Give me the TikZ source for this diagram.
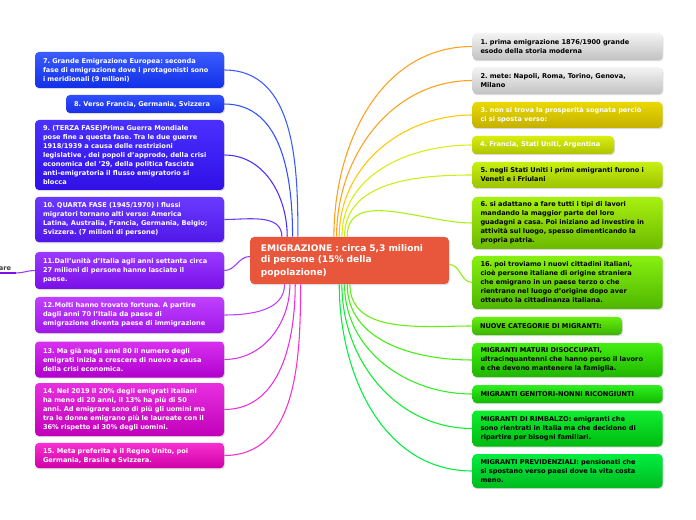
\documentclass[tikz,border=0pt]{standalone}
\usepackage{fontspec}
\setmainfont{DejaVu Sans}
\usetikzlibrary{shadows}
\definecolor{c7a}{HTML}{3A5CFF}\definecolor{c7b}{HTML}{1230E8}
\definecolor{c8a}{HTML}{2E50FF}\definecolor{c8b}{HTML}{1A2EE8}
\definecolor{c9a}{HTML}{4A30FF}\definecolor{c9b}{HTML}{3010E6}
\definecolor{c10a}{HTML}{6A3AFF}\definecolor{c10b}{HTML}{5018E8}
\definecolor{c11a}{HTML}{9A3AFF}\definecolor{c11b}{HTML}{7A10E8}
\definecolor{c12a}{HTML}{C040FF}\definecolor{c12b}{HTML}{A018E8}
\definecolor{c13a}{HTML}{D830F0}\definecolor{c13b}{HTML}{B000CC}
\definecolor{c14a}{HTML}{E830E0}\definecolor{c14b}{HTML}{C000B8}
\definecolor{c15a}{HTML}{F830D0}\definecolor{c15b}{HTML}{D000A8}
\definecolor{g1a}{HTML}{F4F4F4}\definecolor{g1b}{HTML}{C2C2C2}
\definecolor{y3a}{HTML}{EAD800}\definecolor{y3b}{HTML}{C4B000}
\definecolor{y4a}{HTML}{D8EE10}\definecolor{y4b}{HTML}{B0C400}
\definecolor{y5a}{HTML}{C8F010}\definecolor{y5b}{HTML}{9CC200}
\definecolor{y6a}{HTML}{A8F010}\definecolor{y6b}{HTML}{6CBA00}
\definecolor{y16a}{HTML}{88F010}\definecolor{y16b}{HTML}{4EB600}
\definecolor{ynua}{HTML}{66EE10}\definecolor{ynub}{HTML}{3AB400}
\definecolor{ymaa}{HTML}{44EE10}\definecolor{ymab}{HTML}{20B600}
\definecolor{ygea}{HTML}{30EE20}\definecolor{ygeb}{HTML}{10BA00}
\definecolor{yria}{HTML}{10EE30}\definecolor{yrib}{HTML}{00BA10}
\definecolor{ypra}{HTML}{00EE40}\definecolor{yprb}{HTML}{00BA20}
\definecolor{ctr}{HTML}{E8573C}
\definecolor{lo1}{HTML}{FFA020}\definecolor{lo3}{HTML}{FFC800}
\frenchspacing
\begin{document}
\begin{tikzpicture}[x=0.75pt,y=-0.75pt,
  box/.style={rounded corners=3pt, align=left, inner xsep=6pt, inner ysep=1pt,
    font=\fontsize{4.95}{6.75}\selectfont\bfseries\frenchspacing,
    drop shadow={opacity=0.28,shadow xshift=0.6pt,shadow yshift=-0.9pt}},
  lbox/.style={box, text=white, text width=129.75pt},
  rbox/.style={box, text width=130.5pt},
  grad/.style 2 args={top color=#1, bottom color=#2},
  conn/.style={line width=0.8pt}]
\useasboundingbox (0,0) rectangle (696,520);
\fill[white] (0,0) rectangle (696,520);

% centre
\node[rounded corners=3pt, fill=ctr, text=white, align=left, text width=133pt,
  minimum height=35.25pt, inner xsep=8pt, font=\fontsize{6.8}{9}\selectfont\bfseries,
  drop shadow={opacity=0.28,shadow xshift=0.6pt,shadow yshift=-0.9pt}]
  (c) at (349.5,260.5) {EMIGRAZIONE : circa 5,3 milioni\\di persone (15\% della\\popolazione)};

% left column
\node[lbox, grad={c7a}{c7b}, minimum height=27pt] (n7) at (129.5,70)
 {7. Grande Emigrazione Europea: seconda\\fase di emigrazione dove i protagonisti sono\\i meridionali (9 milioni)};
\node[box, text=white, text width=106.5pt, grad={c8a}{c8b}, minimum height=13.5pt] (n8) at (145,104)
 {8. Verso Francia, Germania, Svizzera};
\node[lbox, grad={c9a}{c9b}, minimum height=52.5pt] (n9) at (129.5,155)
 {9. (TERZA FASE)Prima Guerra Mondiale\\pose fine a questa fase. Tra le due guerre\\1918/1939 a causa delle restrizioni\\legislative , dei popoli d'approdo, della crisi\\economica del '29, della politica fascista\\anti-emigratoria il flusso emigratorio si\\blocca};
\node[lbox, grad={c10a}{c10b}, minimum height=34pt] (n10) at (129.5,219.5)
 {10. QUARTA FASE (1945/1970) i flussi\\migratori tornano alti verso: America\\Latina, Australia, Francia, Germania, Belgio;\\Svizzera. (7 milioni di persone)};
\node[lbox, grad={c11a}{c11b}, minimum height=27.75pt] (n11) at (129.5,270.5)
 {11.Dall'unità d'Italia agli anni settanta circa\\27 milioni di persone hanno lasciato il\\paese.};
\node[lbox, grad={c12a}{c12b}, minimum height=27pt] (n12) at (129.5,315)
 {12.Molti hanno trovato fortuna. A partire\\dagli anni 70 l'Italia da paese di\\emigrazione diventa paese di immigrazione};
\node[lbox, grad={c13a}{c13b}, minimum height=27pt] (n13) at (129.5,359.5)
 {13. Ma già negli anni 80 il numero degli\\emigrati inizia a crescere di nuovo a causa\\della crisi economica.};
\node[lbox, grad={c14a}{c14b}, minimum height=39.75pt] (n14) at (129.5,409.5)
 {14. Nel 2019 il 20\% degli emigrati italiani\\ha meno di 20 anni, il 13\% ha più di 50\\anni. Ad emigrare sono di più gli uomini ma\\tra le donne emigrano più le laureate con il\\36\% rispetto al 30\% degli uomini.};
\node[lbox, grad={c15a}{c15b}, minimum height=19pt] (n15) at (129.5,455.5)
 {15. Meta preferita è il Regno Unito, poi\\Germania, Brasile e Svizzera.};

% right column
\node[rbox, grad={g1a}{g1b}, minimum height=20.25pt] (r1) at (567.5,46.5)
 {1. prima emigrazione 1876/1900 grande\\esodo della storia moderna};
\node[rbox, grad={g1a}{g1b}, minimum height=20.25pt] (r2) at (567.5,80.5)
 {2. mete: Napoli, Roma, Torino, Genova,\\Milano};
\node[rbox, text=white, grad={y3a}{y3b}, minimum height=19.5pt] (r3) at (567.5,115)
 {3. non si trova la prosperità sognata perciò\\ci si sposta verso:};
\node[box, text=white, text width=94.5pt, grad={y4a}{y4b}, minimum height=13.5pt] (r4) at (543,145)
 {4. Francia, Stati Uniti, Argentina};
\node[rbox, grad={y5a}{y5b}, minimum height=19.5pt] (r5) at (567.5,175)
 {5. negli Stati Uniti i primi emigranti furono i\\Veneti e i Friulani};
\node[rbox, grad={y6a}{y6b}, minimum height=39pt] (r6) at (567.5,223)
 {6. si adattano a fare tutti i tipi di lavori\\mandando la maggior parte del loro\\guadagni a casa. Poi iniziano ad investire in\\attività sul luogo, spesso dimenticando la\\propria patria.};
\node[rbox, grad={y16a}{y16b}, minimum height=39.75pt] (r16) at (567.5,282.5)
 {16. poi troviamo i nuovi cittadini italiani,\\cioè persone italiane di origine straniera\\che emigrano in un paese terzo o che\\rientrano nel luogo d'origine dopo aver\\ottenuto la cittadinanza italiana.};
\node[box, text width=100.5pt, grad={ynua}{ynub}, minimum height=13.5pt] (rnu) at (547,326)
 {NUOVE CATEGORIE DI MIGRANTI:};
\node[rbox, grad={ymaa}{ymab}, minimum height=25.5pt] (rma) at (567.5,360)
 {MIGRANTI MATURI DISOCCUPATI,\\ultracinquantenni che hanno perso il lavoro\\e che devono mantenere la famiglia.};
\node[rbox, grad={ygea}{ygeb}, minimum height=13.5pt] (rge) at (567.5,394)
 {MIGRANTI GENITORI-NONNI RICONGIUNTI};
\node[rbox, grad={yria}{yrib}, minimum height=27pt] (rri) at (567.5,428.5)
 {MIGRANTI DI RIMBALZO: emigranti che\\sono rientrati in Italia ma che decidono di\\ripartire per bisogni familiari.};
\node[rbox, grad={ypra}{yprb}, minimum height=25.5pt] (rpr) at (567.5,471)
 {MIGRANTI PREVIDENZIALI: pensionati che\\si spostano verso paesi dove la vita costa\\meno.};

% connectors left
\draw[conn, c7a] ([xshift=36pt]c.north west) to[out=90,in=0] (n7.east);
\draw[conn, c8a] ([xshift=32pt]c.north west) to[out=90,in=0] (n8.east);
\draw[conn, c9a] ([xshift=28pt]c.north west) to[out=90,in=0] (n9.east);
\draw[conn, c10a] ([xshift=24pt]c.north west) to[out=90,in=0] (n10.east);
\draw[conn, c11a] ([yshift=3pt]c.west) to[out=180,in=0] (n11.east);
\draw[conn, c12a] ([xshift=26pt]c.south west) to[out=-90,in=0] (n12.east);
\draw[conn, c13a] ([xshift=30pt]c.south west) to[out=-90,in=0] (n13.east);
\draw[conn, c14a] ([xshift=34pt]c.south west) to[out=-90,in=0] (n14.east);
\draw[conn, c15a] ([xshift=38pt]c.south west) to[out=-90,in=0] (n15.east);

% connectors right
\draw[conn, lo1] ([xshift=63pt]c.north west) to[out=90,in=180] (r1.west);
\draw[conn, lo1] ([xshift=65pt]c.north west) to[out=90,in=180] (r2.west);
\draw[conn, lo3] ([xshift=67pt]c.north west) to[out=90,in=180] (r3.west);
\draw[conn, y4a] ([xshift=69pt]c.north west) to[out=90,in=180] (r4.west);
\draw[conn, y5a] ([xshift=71pt]c.north west) to[out=90,in=180] (r5.west);
\draw[conn, y6a] ([xshift=73pt]c.north west) to[out=90,in=180] (r6.west);
\draw[conn, y16a] ([yshift=-3pt]c.east) to[out=0,in=180] (r16.west);
\draw[conn, ynua] ([xshift=75pt]c.south west) to[out=-90,in=180] (rnu.west);
\draw[conn, ymaa] ([xshift=73pt]c.south west) to[out=-90,in=180] (rma.west);
\draw[conn, ygea] ([xshift=71pt]c.south west) to[out=-90,in=180] (rge.west);
\draw[conn, yria] ([xshift=69pt]c.south west) to[out=-90,in=180] (rri.west);
\draw[conn, ypra] ([xshift=67pt]c.south west) to[out=-90,in=180] (rpr.west);

% off-page stub
\node[anchor=south east, inner sep=0.5pt, text=black!75, font=\fontsize{5}{6}\selectfont\bfseries] (stub) at (12,272) {are};
\coordinate (s0) at (0,273);
\coordinate (s1) at (16,273);
\draw[c11b, line width=1.6pt] (s0) -- (s1);
\draw[conn, c11a] (s1) to[out=0,in=180] (n11.west);
\end{tikzpicture}
\end{document}
